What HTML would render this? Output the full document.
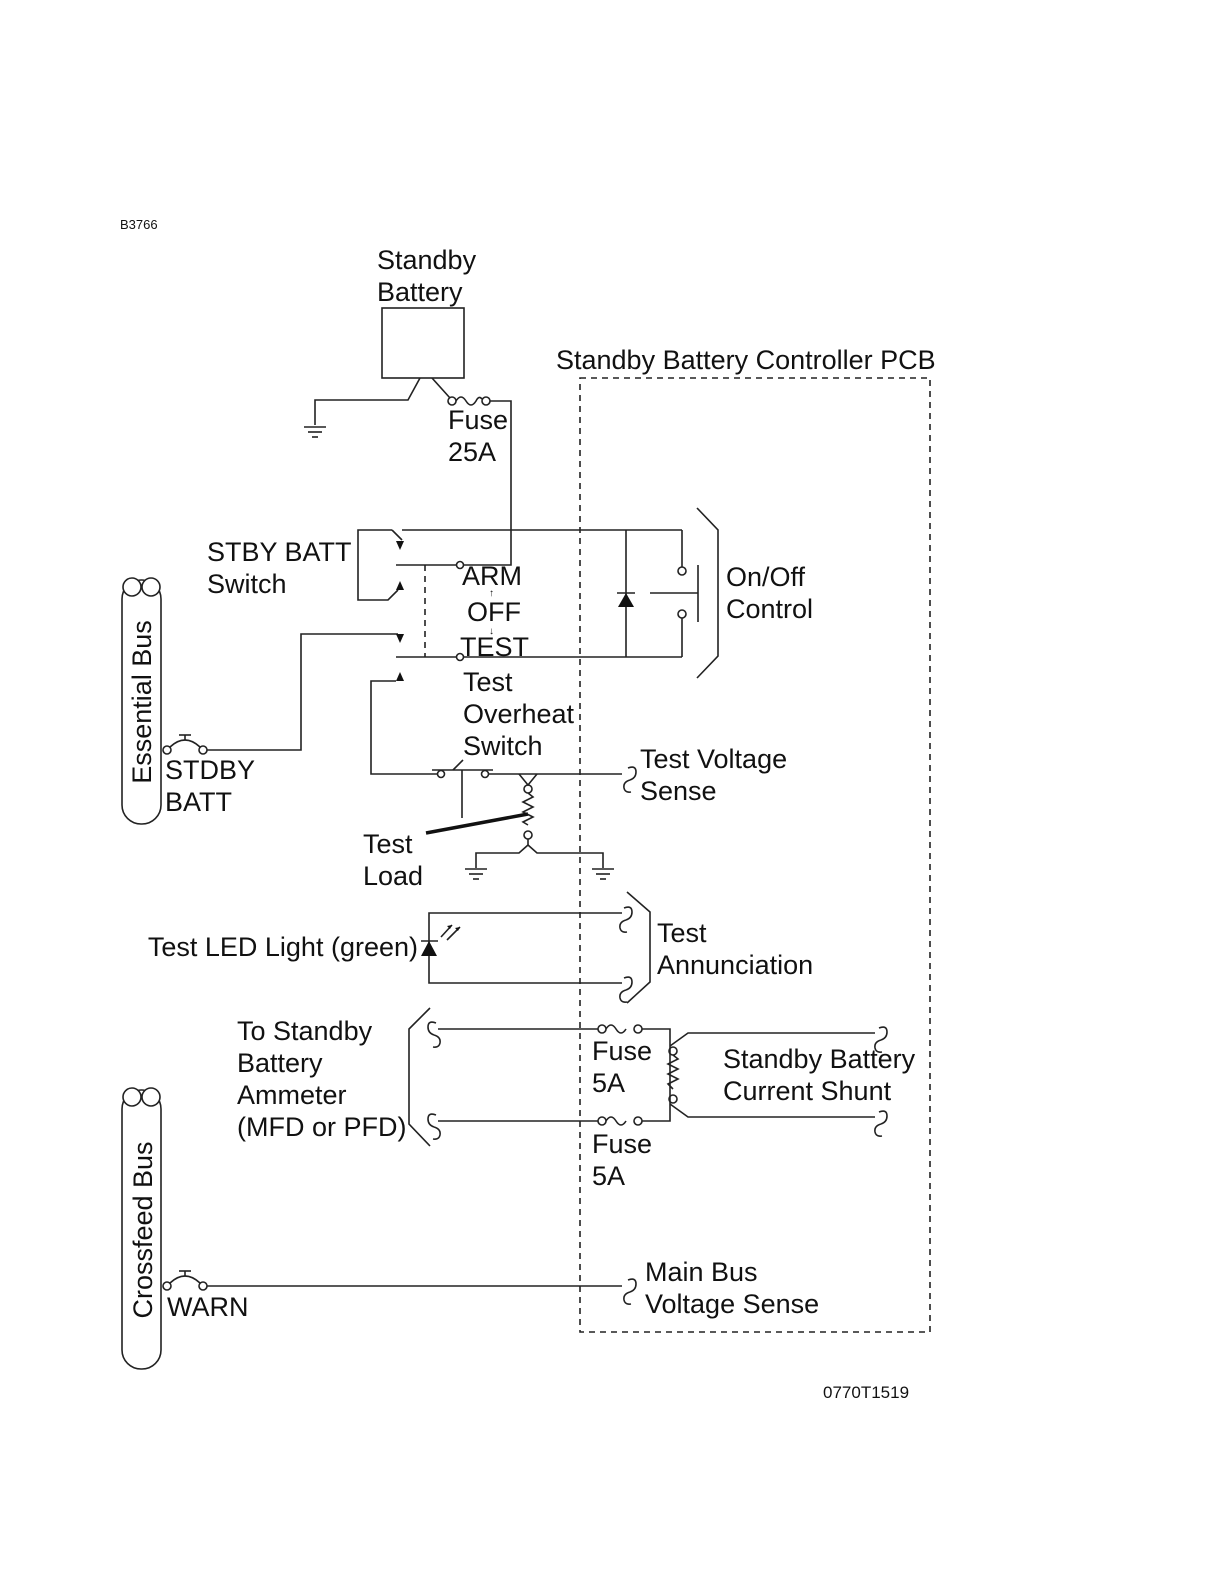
<!DOCTYPE html>
<html><head><meta charset="utf-8"><style>
html,body{margin:0;padding:0;background:#fff;overflow:hidden;width:1224px;height:1584px}
svg{display:block;position:absolute;left:0;top:0}
text{font-family:"Liberation Sans",Arial,sans-serif;font-size:27px;fill:#111}
</style></head><body>
<svg width="1224" height="1584" viewBox="0 0 1224 1584" xmlns="http://www.w3.org/2000/svg">
<defs>
<g id="hookL" fill="none" stroke="#222" stroke-width="1.6">
<path d="M0,-12 q8,-3 8,4 q0,6 -6,8"/>
<path d="M2,0 q-7,2 -6,8 q1,5 7,4"/>
</g>
<g id="hookR" fill="none" stroke="#222" stroke-width="1.6">
<path d="M0,-12 q-8,-3 -8,4 q0,6 6,8"/>
<path d="M-2,0 q7,2 6,8 q-1,5 -7,4"/>
</g>
<g id="gnd" stroke="#222" stroke-width="1.6">
<line x1="-11" y1="0" x2="11" y2="0"/><line x1="-7" y1="5" x2="7" y2="5"/><line x1="-3" y1="10" x2="3" y2="10"/>
</g>
</defs>
<g fill="none" stroke="#222" stroke-width="1.6">
<rect x="382" y="308" width="82" height="70"/>
<polyline points="420,378 408,400 315,400 315,425"/>
<polyline points="432,378 450,398"/>
<circle cx="452" cy="401" r="4"/>
<path d="M456,401 q5,-8 10,0 q5,8 10,0 q3,-6 6,-2"/>
<circle cx="486" cy="401" r="4"/>
<polyline points="490,401 511,401 511,565 464,565"/>
<rect x="580" y="378" width="350" height="954" stroke-dasharray="6,5"/>
<polyline points="392,530 358,530 358,600 388,600 398,590"/>
<polyline points="392,530 402,540"/>
<line x1="402" y1="530" x2="682" y2="530"/>
<line x1="396" y1="565" x2="456" y2="565"/>
<circle cx="460" cy="565" r="3.5"/>
<line x1="425" y1="565" x2="425" y2="657" stroke-dasharray="6,5"/>
<line x1="396" y1="657" x2="456" y2="657"/>
<circle cx="460" cy="657" r="3.5"/>
<line x1="464" y1="657" x2="682" y2="657"/>
<polyline points="398,634 301,634 301,750 207,750"/>
<polyline points="396,681 371,681 371,774 437,774"/>
<line x1="626" y1="530" x2="626" y2="657"/>
<line x1="617" y1="593" x2="635" y2="593"/>
<polyline points="682,530 682,567"/><circle cx="682" cy="571" r="4"/>
<circle cx="682" cy="614" r="4"/><polyline points="682,618 682,657"/>
<line x1="698" y1="565" x2="698" y2="622"/>
<line x1="650" y1="593" x2="698" y2="593"/>
<polyline points="697,508 718,530 718,656 697,678"/>
<circle cx="441" cy="774" r="3.5"/><circle cx="485" cy="774" r="3.5"/>
<line x1="432" y1="770" x2="493" y2="770"/>
<line x1="453" y1="770" x2="463" y2="760"/>
<line x1="462" y1="770" x2="462" y2="818"/>
<polyline points="489,774 622,774"/>
<polyline points="519,774 528,785 537,774"/>
<circle cx="528" cy="789" r="4"/>
<path d="M528,793 l5,4 l-10,5 l10,5 l-10,5 l10,5 l-10,5 l5,3"/>
<circle cx="528" cy="835" r="4"/>
<polyline points="528,839 528,845 519,853 476,853 476,868"/>
<polyline points="528,845 537,853 603,853 603,868"/>
<circle cx="167" cy="750" r="4"/><circle cx="203" cy="750" r="4"/>
<path d="M170,747 q15,-14 30,0"/><line x1="185" y1="740" x2="185" y2="735"/><line x1="179" y1="735" x2="191" y2="735"/>
<circle cx="167" cy="1286" r="4"/><circle cx="203" cy="1286" r="4"/>
<path d="M170,1283 q15,-14 30,0"/><line x1="185" y1="1276" x2="185" y2="1271"/><line x1="179" y1="1271" x2="191" y2="1271"/>
<line x1="207" y1="1286" x2="622" y2="1286"/>
<rect x="122" y="580" width="39" height="244" rx="19"/>
<circle cx="132" cy="587" r="9" fill="#fff"/><circle cx="151" cy="587" r="9" fill="#fff"/>
<rect x="122" y="1090" width="39" height="279" rx="19"/>
<circle cx="132" cy="1097" r="9" fill="#fff"/><circle cx="151" cy="1097" r="9" fill="#fff"/>
<polyline points="622,913 429,913 429,983 622,983"/>
<line x1="421" y1="941" x2="438" y2="941"/>
<polyline points="627,892 650,912 650,982 627,1003"/>
<line x1="441" y1="937" x2="452" y2="925"/><line x1="447" y1="940" x2="460" y2="927"/>
<polyline points="430,1008 409,1029 409,1124 430,1146"/>
<line x1="438" y1="1029" x2="598" y2="1029"/>
<circle cx="602" cy="1029" r="4"/><path d="M606,1029 q5,-8 10,0 q5,8 10,0"/><circle cx="638" cy="1029" r="4"/>
<polyline points="642,1029 670,1029 670,1121 642,1121"/>
<line x1="438" y1="1121" x2="598" y2="1121"/>
<circle cx="602" cy="1121" r="4"/><path d="M606,1121 q5,-8 10,0 q5,8 10,0"/><circle cx="638" cy="1121" r="4"/>
<circle cx="673" cy="1051" r="4"/><circle cx="673" cy="1099" r="4"/>
<path d="M673,1055 l5,4 l-10,5 l10,5 l-10,5 l10,5 l-10,5 l5,5"/>
<polyline points="670,1046 688,1033 875,1033"/>
<polyline points="670,1104 688,1117 875,1117"/>
</g>
<g fill="#111">
<path d="M396,541 l8,0 l-4,9 z"/><path d="M396,590 l8,0 l-4,-9 z"/>
<path d="M396,634 l8,0 l-4,9 z"/><path d="M396,681 l8,0 l-4,-9 z"/>
<path d="M618,607 l16,0 l-8,-14 z"/>
<path d="M421,956 l16,0 l-8,-15 z"/>
<path d="M452,925 l-5,1 l3,3 z"/><path d="M460,927 l-5,1 l3,3 z"/>
</g>
<line x1="426" y1="833" x2="528" y2="814" stroke="#111" stroke-width="3.5"/>
<use href="#hookL" x="628" y="780"/>
<use href="#hookL" x="624" y="920"/><use href="#hookL" x="624" y="990"/>
<use href="#hookR" x="436" y="1035"/><use href="#hookR" x="436" y="1127"/>
<use href="#hookL" x="879" y="1040"/><use href="#hookL" x="879" y="1124"/>
<use href="#hookL" x="628" y="1292"/>
<use href="#gnd" x="315" y="427"/><use href="#gnd" x="476" y="869"/><use href="#gnd" x="603" y="869"/>
<text x="120" y="229" style="font-size:13px">B3766</text>
<text x="377" y="269">Standby</text><text x="377" y="301">Battery</text>
<text x="556" y="369">Standby Battery Controller PCB</text>
<text x="448" y="429">Fuse</text><text x="448" y="461">25A</text>
<text x="207" y="561">STBY BATT</text><text x="207" y="593">Switch</text>
<text x="462" y="585">ARM</text><text x="467" y="621">OFF</text><text x="460" y="656">TEST</text>
<text x="489" y="596" style="font-size:10px">↑</text><text x="489" y="634" style="font-size:10px">↓</text>
<text x="726" y="586">On/Off</text><text x="726" y="618">Control</text>
<text x="463" y="691">Test</text><text x="463" y="723">Overheat</text><text x="463" y="755">Switch</text>
<text x="640" y="768">Test Voltage</text><text x="640" y="800">Sense</text>
<text x="363" y="853">Test</text><text x="363" y="885">Load</text>
<text x="165" y="779">STDBY</text><text x="165" y="811">BATT</text>
<text transform="translate(151,702) rotate(-90)" text-anchor="middle">Essential Bus</text>
<text transform="translate(152,1230) rotate(-90)" text-anchor="middle">Crossfeed Bus</text>
<text x="418" y="956" text-anchor="end">Test LED Light (green)</text>
<text x="657" y="942">Test</text><text x="657" y="974">Annunciation</text>
<text x="237" y="1040">To Standby</text><text x="237" y="1072">Battery</text><text x="237" y="1104">Ammeter</text><text x="237" y="1136">(MFD or PFD)</text>
<text x="592" y="1060">Fuse</text><text x="592" y="1092">5A</text>
<text x="592" y="1153">Fuse</text><text x="592" y="1185">5A</text>
<text x="723" y="1068">Standby Battery</text><text x="723" y="1100">Current Shunt</text>
<text x="167" y="1316">WARN</text>
<text x="645" y="1281">Main Bus</text><text x="645" y="1313">Voltage Sense</text>
<text x="823" y="1398" style="font-size:17px">0770T1519</text>
</svg>
</body></html>
